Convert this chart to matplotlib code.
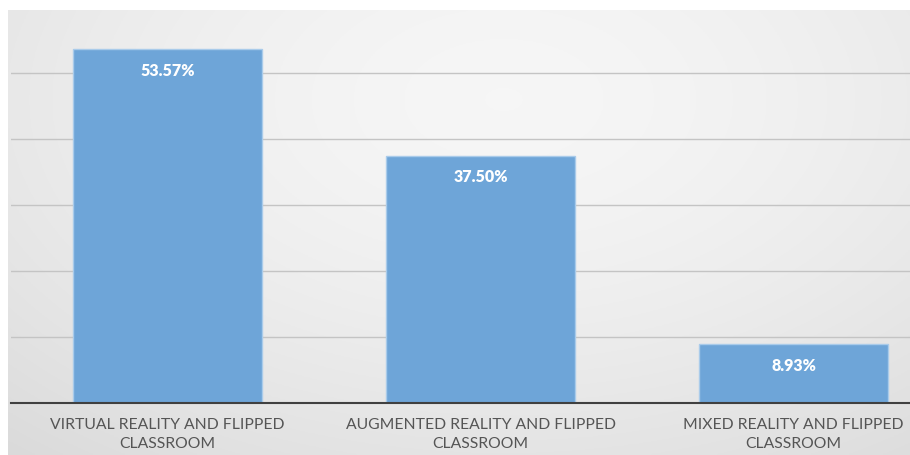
import numpy as np
import matplotlib.pyplot as plt

categories = ["VIRTUAL REALITY AND FLIPPED\nCLASSROOM",
              "AUGMENTED REALITY AND FLIPPED\nCLASSROOM",
              "MIXED REALITY AND FLIPPED\nCLASSROOM"]
shares = [53.57, 37.50, 8.93]
share_labels = ["53.57%", "37.50%", "8.93%"]

W, H = 910, 455
fig = plt.figure(figsize=(W / 100, H / 100), dpi=100)
fig.patch.set_facecolor("white")

# soft radial gray backdrop behind the chart area
bg = fig.add_axes([8 / W, 0, 1 - 8 / W, 1 - 10 / H])
yy, xx = np.mgrid[0:1:200j, 0:1:400j]
r = np.sqrt(((xx - 0.55) / 0.85) ** 2 + ((yy - 0.2) / 1.05) ** 2)
shade = 0.965 - 0.11 * np.clip(r, 0, 1.1) ** 1.6
bg.imshow(np.dstack([shade] * 3), aspect="auto", extent=[0, 1, 1, 0])
bg.set_axis_off()

ax = fig.add_axes([11 / W, 52 / H, 939 / W, 396 / H])
ax.patch.set_alpha(0)
x = np.arange(len(categories))
ax.bar(x, shares, width=0.604, color="#6EA5D8", edgecolor="#A9CBEA",
       linewidth=1.0, zorder=3)
for xi, v, lab in zip(x, shares, share_labels):
    ax.text(xi, v - 3.3, lab, ha="center", va="center", color="white",
            fontsize=11.5, fontweight="heavy", family="Lato", zorder=4)

ax.set_xlim(-0.5, 2.5)
ax.set_ylim(0, 60)
ax.set_yticks(np.arange(10, 60, 10))
ax.yaxis.grid(True, color="#c4c4c4", linewidth=1)
ax.tick_params(axis="y", left=False, labelleft=False)
ax.set_xticks(x)
ax.set_xticklabels(categories, family="Lato", fontsize=11.3, color="#555555",
                   linespacing=1.45)
ax.tick_params(axis="x", length=0, pad=11)
for side in ["top", "right", "left"]:
    ax.spines[side].set_visible(False)
ax.spines["bottom"].set_color("#404040")
ax.spines["bottom"].set_linewidth(1.5)
ax.spines["bottom"].set_zorder(5)

fig.savefig("out.png", dpi=100)
